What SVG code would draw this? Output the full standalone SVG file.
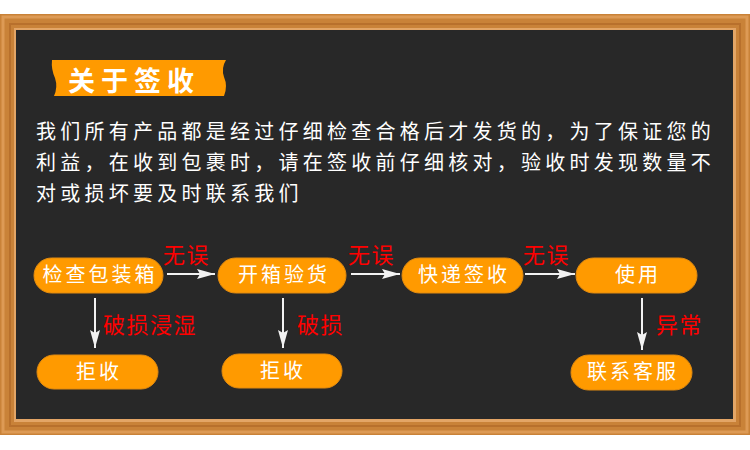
<svg xmlns="http://www.w3.org/2000/svg" width="750" height="450" viewBox="0 0 750 450">
  <defs>
    <linearGradient id="frameH" x1="0" y1="0" x2="0" y2="1">
      <stop offset="0" stop-color="#d98f4a"/>
      <stop offset="0.5" stop-color="#c47a35"/>
      <stop offset="1" stop-color="#dd9a58"/>
    </linearGradient>
    <marker id="ah" viewBox="0 0 18 10" refX="18" refY="5" markerWidth="18" markerHeight="10" markerUnits="userSpaceOnUse" orient="auto">
      <path d="M0,0 L18,5 L0,10 L3,5 Z" fill="#f2f2f2"/>
    </marker>
    <style>
      .node rect { fill: #ff9a00; stroke: #e08a10; stroke-width: 1; }
      .node text { fill: #ffffff; font-family: "Noto Sans CJK SC", "Noto Sans", sans-serif; font-size: 20px; letter-spacing: 3px; text-anchor: middle; }
      .para { fill: #ffffff; font-family: "Noto Sans CJK SC", "Noto Sans", sans-serif; font-size: 20px; letter-spacing: 4.25px; }
      .lbl { fill: #ff0000; font-family: "Noto Sans CJK SC", "Noto Sans", sans-serif; font-size: 22px; letter-spacing: 1.5px; }
      .conn line { stroke: #f2f2f2; stroke-width: 2; marker-end: url(#ah); }
    </style>
  </defs>
  <rect x="0" y="0" width="750" height="450" fill="#ffffff"/>
  <!-- frame -->
  <rect x="0" y="14" width="750" height="421" fill="#c98238"/>
  <rect x="3" y="17" width="744" height="415" fill="none" stroke="#dd9a55" stroke-width="3"/>
  <rect x="10" y="24" width="730" height="402" fill="none" stroke="#b8702c" stroke-width="2"/>
  <rect x="14" y="28" width="722" height="394" fill="#e3a566"/>
  <rect x="16" y="30" width="717" height="389" fill="#282828"/>

  <!-- title banner -->
  <g id="title">
    <path d="M52,60 L226,60 Q221,68 224,77 Q228,86 224,96 L54,96 Q58,87 55,78 Q51,69 52,60 Z" fill="#ff9a00"/>
    <text x="68" y="91" fill="#ffffff" font-family="Noto Sans CJK SC, Noto Sans, sans-serif" font-size="27" font-weight="bold" letter-spacing="6">关于签收</text>
  </g>

  <!-- paragraph -->
  <g id="intro">
    <text class="para" x="36" y="139">我们所有产品都是经过仔细检查合格后才发货的，为了保证您的</text>
    <text class="para" x="36" y="170">利益，在收到包裹时，请在签收前仔细核对，验收时发现数量不</text>
    <text class="para" x="36" y="201">对或损坏要及时联系我们</text>
  </g>

  <!-- connectors -->
  <g id="connectors" class="conn">
    <line x1="167" y1="274" x2="215" y2="274"/>
    <line x1="351" y1="274" x2="400" y2="274"/>
    <line x1="525" y1="274" x2="575" y2="274"/>
    <line x1="95" y1="298" x2="95" y2="348"/>
    <line x1="283" y1="298" x2="283" y2="348"/>
    <line x1="642" y1="298" x2="642" y2="350"/>
    <text class="lbl" x="163" y="263">无误</text>
    <text class="lbl" x="348" y="263">无误</text>
    <text class="lbl" x="523" y="263">无误</text>
    <text class="lbl" x="103" y="333">破损浸湿</text>
    <text class="lbl" x="297" y="333">破损</text>
    <text class="lbl" x="656" y="333">异常</text>
  </g>

  <!-- nodes -->
  <g id="n1" class="node"><rect x="34" y="258" width="129" height="35" rx="17.5"/><text x="100" y="282">检查包装箱</text></g>
  <g id="n2" class="node"><rect x="218" y="258" width="128" height="35" rx="17.5"/><text x="284" y="282">开箱验货</text></g>
  <g id="n3" class="node"><rect x="402" y="258" width="121" height="35" rx="17.5"/><text x="464" y="282">快递签收</text></g>
  <g id="n4" class="node"><rect x="576" y="258" width="121" height="35" rx="17.5"/><text x="638" y="282">使用</text></g>
  <g id="n5" class="node"><rect x="37" y="355" width="121" height="34" rx="17"/><text x="99" y="379">拒收</text></g>
  <g id="n6" class="node"><rect x="222" y="354" width="120" height="34" rx="17"/><text x="283" y="378">拒收</text></g>
  <g id="n7" class="node"><rect x="571" y="355" width="121" height="35" rx="17.5"/><text x="633" y="379">联系客服</text></g>
</svg>
